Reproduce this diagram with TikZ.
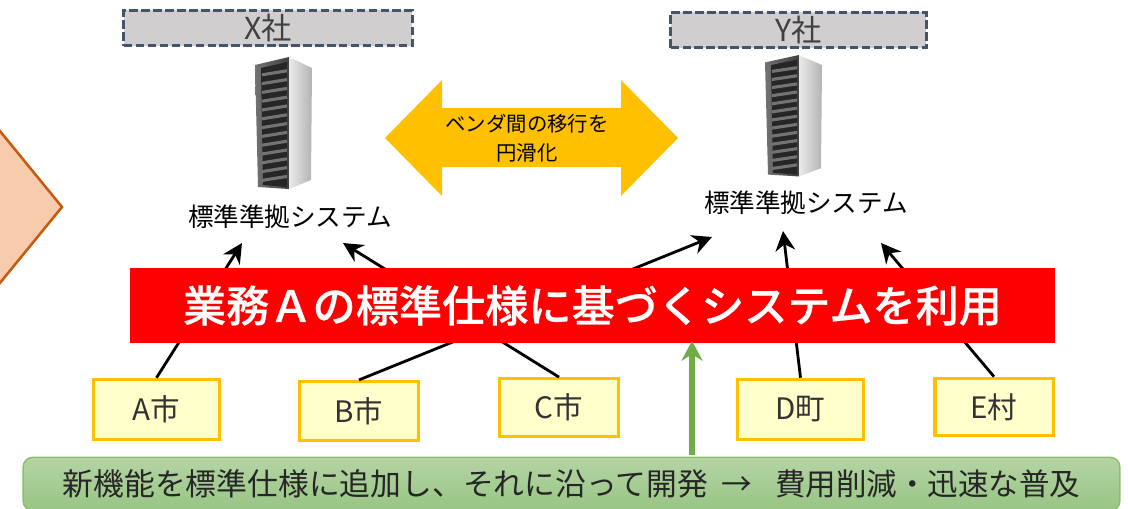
\documentclass[tikz,border=0pt]{standalone}
\usepackage{fontspec}
\setmainfont{Noto Sans CJK JP}
\newfontfamily\bannerfont[FakeBold=.5]{Noto Sans CJK JP Medium}
\usetikzlibrary{calc}
\usetikzlibrary{arrows.meta,positioning}
\definecolor{pentafill}{HTML}{F8CBAD}
\definecolor{pentaline}{HTML}{C55A11}
\definecolor{vendorfill}{HTML}{D0CECE}
\definecolor{vendorline}{HTML}{44546A}
\definecolor{gold}{HTML}{FFC000}
\definecolor{cityfill}{HTML}{FFFFCC}
\definecolor{barline}{HTML}{70AD47}
\definecolor{bartop}{HTML}{B4D4A4}
\definecolor{barbottom}{HTML}{98C584}
\tikzset{
	vendor/.style={draw=vendorline, fill=vendorfill, line width=2pt, dash pattern=on 6pt off 2.5pt, inner sep=0pt, font=\fontsize{21.5}{24}\selectfont, text=black!75},
	city/.style={draw=gold, fill=cityfill, line width=2.2pt, inner sep=0pt, font=\fontsize{21}{24}\selectfont, text=black!80},
	system/.style={inner sep=0pt, font=\fontsize{18.2}{20}\selectfont},
	link/.style={line width=2pt, -{Stealth[length=14pt,width=14pt]}},
	rack/.pic={
		\shade [left color=black!55, right color=black!75] (0, 8)--(34, 0)--(34, 132)--(3, 130)--cycle;
		\fill [black!85] (6, 11)--(32, 5)--(32, 130)--(8, 128)--cycle;
		\foreach \i in {1,...,13} {
			\draw [black!55, line width=2.2pt] (7, 9+\i*8.8)--(32, 5+\i*8.8);
		}
		\shade [left color=black!8, right color=black!30] (34, 0)--(57, 11)--(56, 123)--(34, 132)--cycle;
	}
}
\begin{document}
\begin{tikzpicture}[x=.025cm, y=-.025cm]
	\useasboundingbox (0, 0) rectangle (1128, 508);
	% left pentagon
	\draw [fill=pentafill, draw=pentaline, line width=1.8pt] (-5, 125)--(62, 207)--(-5, 289)--cycle;
	% vendors
	\node (vendorX) at (268, 28) [vendor, minimum width=205pt, minimum height=25pt] {X社};
	\node (vendorY) at (798.5, 30) [vendor, minimum width=182pt, minimum height=25pt] {Y社};
	\pic at (255, 57) {rack};
	\pic at (765, 55) [yscale=.92] {rack};
	\node (systemX) at (290, 217) [system] {標準準拠システム};
	\node (systemY) at (806, 203) [system] {標準準拠システム};
	% move arrow
	\fill [gold] (385, 138)--(442, 80)--(442, 108)--(621, 108)--(621, 80)--(678, 138)--(621, 196)--(621, 167)--(442, 167)--(442, 196)--cycle;
	\node (moveText) at (527, 138.5) [align=center, font=\fontsize{14.5}{20.8}\selectfont] {ベンダ間の移行を\\円滑化};
	% cities
	\node (cityA) at (156.5, 409.5) [city, minimum width=89pt, minimum height=43pt] {A市};
	\node (cityB) at (359, 411) [city, minimum width=85pt, minimum height=42pt] {B市};
	\node (cityC) at (559, 407.5) [city, minimum width=84pt, minimum height=41pt] {C市};
	\node (cityD) at (800.5, 409.5) [city, minimum width=90pt, minimum height=43pt] {D町};
	\node (cityE) at (994, 407) [city, minimum width=84pt, minimum height=41pt] {E村};
	\coordinate (tipA) at (242, 243);
	\coordinate (tipB) at (712, 237);
	\coordinate (tipC) at (343, 243);
	\coordinate (tipD) at (783, 231);
	\coordinate (tipE) at (881, 243);
	\draw [link] (cityA.north)--(tipA);
	\draw [link] (cityB.north)--(tipB);
	\draw [link] (cityC.north)--(tipC);
	\draw [link] (cityD.north)--(tipD);
	\draw [link] (cityE.north)--(tipE);
	% banner
	\node (banner) at (592.5, 305.5) [fill=red, text=white, inner sep=0pt, minimum width=658pt, minimum height=53pt, font=\fontsize{30.7}{32}\bannerfont] {業務Ａの標準仕様に基づくシステムを利用};
	% green bar
	\node (bar) at (571.5, 484) [rounded corners=7pt, draw=barline!80, top color=bartop, bottom color=barbottom, line width=1pt, inner sep=0pt, minimum width=780pt, minimum height=38pt, font=\fontsize{21.9}{24}\selectfont, text=black!85] {新機能を標準仕様に追加し、それに沿って開発\hspace{10pt}→\hspace{16pt}{\fontsize{21.7}{24}\selectfont 費用削減・迅速な普及}};
	\draw [line width=3.6pt, barline, -{Stealth[length=14pt,width=15pt]}] (692, 455)--(692, 341);
\end{tikzpicture}
\end{document}
